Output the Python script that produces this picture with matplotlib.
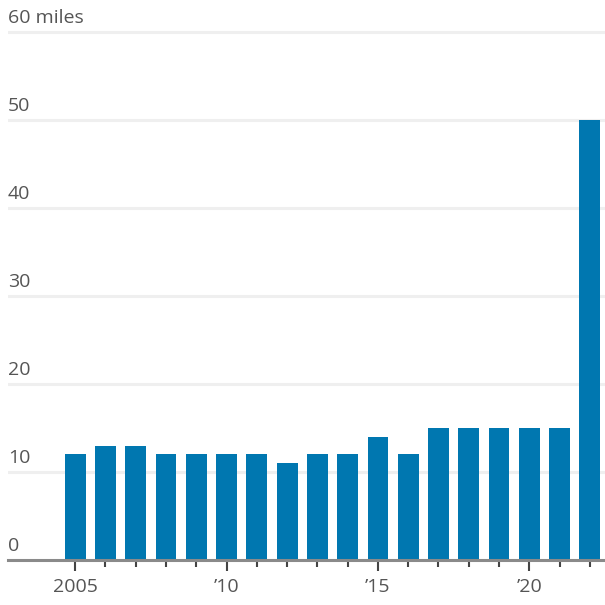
import matplotlib
matplotlib.use("Agg")
import matplotlib.pyplot as plt
from matplotlib.ticker import FixedLocator
import matplotlib.transforms as mtransforms

years = list(range(2005, 2023))
values = [12, 13, 13, 12, 12, 12, 12, 11, 12, 12, 14, 12, 15, 15, 15, 15, 15, 50]
y_ticks = [0, 10, 20, 30, 40, 50, 60]
y_labels = ["0", "10", "20", "30", "40", "50", "60 miles"]
x_major = [2005, 2010, 2015, 2020]
x_labels = ["2005", "\u201910", "\u201915", "\u201920"]

plt.rcParams['font.family'] = ['Open Sans', 'DejaVu Sans']
fig = plt.figure(figsize=(6.05, 6.05), dpi=100)
W = H = 605.0
ax = fig.add_axes([8 / W, (H - 560) / H, (W - 8) / W, (560 - 30) / H])

ax.bar(years, values, width=0.69, color="#0077B0", zorder=3)
ax.set_xlim(2002.78, 2022.5)
ax.set_ylim(0, 60.2)

for t in y_ticks[1:]:
    ax.axhline(t, color="#efefef", lw=2.2, zorder=1)

trans = mtransforms.blended_transform_factory(fig.transFigure, ax.transData)
for t, lab in zip(y_ticks, y_labels):
    ax.text(8 / W, t, lab, transform=trans + mtransforms.ScaledTranslation(0, 5 / 100, fig.dpi_scale_trans),
            ha="left", va="bottom", fontsize=14, color="#555555")

for s in ["left", "right", "top"]:
    ax.spines[s].set_visible(False)
ax.spines["bottom"].set_color("#8a8a8a")
ax.spines["bottom"].set_linewidth(2.2)
ax.spines["bottom"].set_zorder(4)

ax.set_yticks([])
ax.xaxis.set_major_locator(FixedLocator(x_major))
ax.xaxis.set_minor_locator(FixedLocator(years))
ax.set_xticklabels(x_labels)
ax.tick_params(axis="x", which="major", length=8, width=1.5, color="#444444",
               labelsize=14, labelcolor="#555555", pad=5)
ax.tick_params(axis="x", which="minor", length=5, width=1.5, color="#444444")

fig.savefig("out.png", dpi=100)
